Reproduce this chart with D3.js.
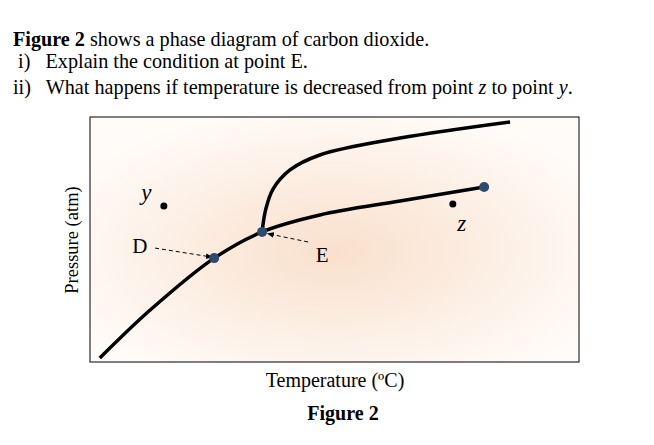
<!DOCTYPE html><html><head><meta charset="utf-8">
<script src="https://cdn.jsdelivr.net/npm/d3@7"></script>
<style>body{margin:0;background:#fff}text{font-family:"Liberation Serif","Times New Roman",serif;fill:#000}</style></head><body>
<svg id="c" width="654" height="445"></svg>
<script>
const lowerCurve=[[2,1.6],[12.3,21.2],[25.4,42.4],[35.2,53.1],[47,60],[63.4,65.7],[80.6,71.4]];
const upperCurve=[[35.2,53.1],[35.9,62],[37.4,70.5],[40.9,78.4],[47,84.5],[63.4,91.4],[85.9,98]];
const bluePoints=[[25.4,42.4],[35.2,53.1],[80.6,71.4]];
const blackPoints=[{p:[15.1,63.7],label:"y",lp:[11.5,66]},{p:[74.2,64.5],label:"z",lp:[76,53.5]}];
const arrowsData=[{label:"D",lp:[10.2,44.5],from:[13.3,46.5],to:[25,42.8]},{label:"E",lp:[47.5,41],from:[44.6,49],to:[36.3,52.4]}];
const svg=d3.select("#c");
const L=90,R=579,T=117,B=362;
const x=d3.scaleLinear().domain([0,100]).range([L,R]);
const y=d3.scaleLinear().domain([0,100]).range([B,T]);
const q=[{y:46,parts:[{t:"Figure 2",b:1},{t:" shows a phase diagram of carbon dioxide."}]},
{y:68,parts:[{t:" i)   Explain the condition at point E."}]},
{y:94,parts:[{t:"ii)   What happens if temperature is decreased from point "},{t:"z",i:1},{t:" to point "},{t:"y",i:1},{t:"."}]}];
q.forEach(l=>{const t=svg.append("text").attr("x",13).attr("y",l.y).attr("font-size",20.2).attr("xml:space","preserve");
l.parts.forEach(p=>t.append("tspan").text(p.t).attr("font-weight",p.b?"bold":null).attr("font-style",p.i?"italic":null));});
const defs=svg.append("defs");
const g=defs.append("radialGradient").attr("id","bg").attr("cx","0.5").attr("cy","0.55").attr("r","0.6");
g.append("stop").attr("offset","0").attr("stop-color","#f9e0cc");
g.append("stop").attr("offset","1").attr("stop-color","#fffbf8");
defs.append("marker").attr("id","ah").attr("viewBox","0 0 10 10").attr("refX",9).attr("refY",5).attr("markerWidth",7).attr("markerHeight",7).attr("orient","auto")
.append("path").attr("d","M0,1L10,5L0,9z").attr("fill","#000");
svg.append("rect").attr("x",L).attr("y",T).attr("width",R-L).attr("height",B-T).attr("fill","url(#bg)").attr("stroke","#000").attr("stroke-width",1);
const line=d3.line().x(d=>x(d[0])).y(d=>y(d[1])).curve(d3.curveCatmullRom);
[lowerCurve,upperCurve].forEach(c=>svg.append("path").attr("d",line(c)).attr("fill","none").attr("stroke","#000").attr("stroke-width",3.5));
arrowsData.forEach(a=>{
svg.append("line").attr("x1",x(a.from[0])).attr("y1",y(a.from[1])).attr("x2",x(a.to[0])).attr("y2",y(a.to[1])).attr("stroke","#000").attr("stroke-width",1).attr("stroke-dasharray","4,3").attr("marker-end","url(#ah)");
svg.append("text").attr("x",x(a.lp[0])).attr("y",y(a.lp[1])).attr("font-size",21).attr("text-anchor","middle").text(a.label);});
bluePoints.forEach(p=>svg.append("circle").attr("cx",x(p[0])).attr("cy",y(p[1])).attr("r",5).attr("fill","#2e4a6e"));
blackPoints.forEach(b=>{svg.append("circle").attr("cx",x(b.p[0])).attr("cy",y(b.p[1])).attr("r",3.5).attr("fill","#000");
svg.append("text").attr("x",x(b.lp[0])).attr("y",y(b.lp[1])).attr("font-size",23).attr("font-style","italic").attr("text-anchor","middle").text(b.label);});
svg.append("text").attr("transform","translate(78,240) rotate(-90)").attr("font-size",18.5).attr("text-anchor","middle").text("Pressure (atm)");
svg.append("text").attr("x",335).attr("y",387).attr("font-size",20).attr("text-anchor","middle").text("Temperature (ºC)");
svg.append("text").attr("x",343).attr("y",420).attr("font-size",20).attr("font-weight","bold").attr("text-anchor","middle").text("Figure 2");
</script></body></html>
